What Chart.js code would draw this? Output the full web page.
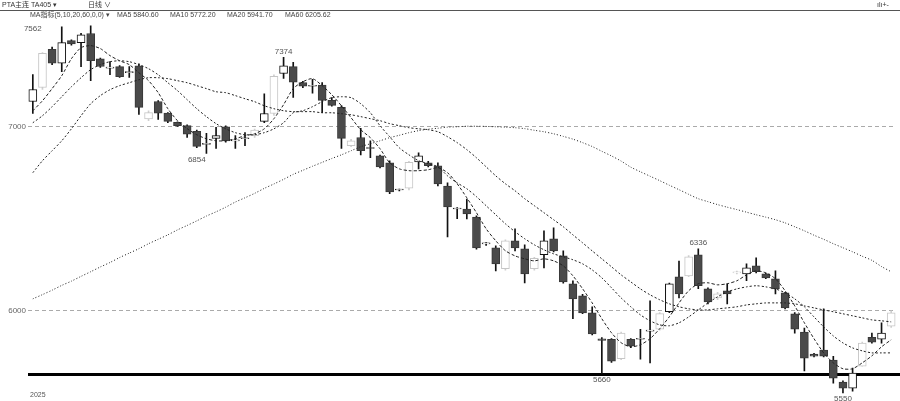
<!DOCTYPE html>
<html>
<head>
<meta charset="utf-8">
<script src="https://cdn.jsdelivr.net/npm/chart.js@4.4.1/dist/chart.umd.min.js"></script>
<style>
  html, body { margin: 0; padding: 0; background: #fff; }
  canvas { display: block; }
</style>
</head>
<body>
<canvas id="kline" width="900" height="401"></canvas>
<script>
// daily candles
const open = [
  7135, 7211, 7418, 7343, 7465, 7454, 7504, 7366, 7316, 7324,
  7292, 7329, 7040, 7135, 7072, 7022, 7004, 6973, 6903, 6935,
  6998, 6922, 6933, 6950, 7027, 7070, 7287, 7324, 7238, 7218,
  7224, 7141, 7103, 6895, 6940, 6885, 6840, 6802, 6655, 6665,
  6808, 6802, 6786, 6677, 6552, 6552, 6509, 6363, 6341, 6228,
  6380, 6336, 6228, 6304, 6391, 6298, 6146, 6081, 5989, 5848,
  5846, 5740, 5846, 5846, 5890, 5900, 5995, 6184, 6190, 6304,
  6119, 6070, 6108, 6206, 6200, 6244, 6200, 6173, 6097, 5984,
  5885, 5765, 5787, 5733, 5614, 5581, 5700, 5857, 5846, 5917
];
const high = [
  7281, 7400, 7430, 7540, 7470, 7505, 7546, 7370, 7351, 7330,
  7324, 7340, 7085, 7140, 7075, 7025, 7008, 6980, 6962, 6995,
  7003, 6950, 6966, 6985, 7177, 7280, 7374, 7347, 7245, 7255,
  7238, 7157, 7113, 6930, 6990, 6922, 6845, 6813, 6660, 6810,
  6857, 6810, 6803, 6694, 6560, 6606, 6515, 6370, 6352, 6385,
  6444, 6358, 6290, 6434, 6450, 6325, 6163, 6090, 6022, 5855,
  5850, 5885, 5850, 5900, 6054, 5990, 6150, 6270, 6300, 6336,
  6125, 6100, 6146, 6215, 6255, 6287, 6205, 6217, 6100, 5990,
  5906, 5770, 6011, 5754, 5620, 5690, 5830, 5880, 5935, 6000
];
const low = [
  7070, 7200, 7335, 7297, 7440, 7324, 7248, 7320, 7281, 7265,
  7265, 7065, 7031, 7038, 7020, 7000, 6940, 6885, 6854, 6880,
  6915, 6880, 6895, 6940, 7020, 7060, 7260, 7157, 7210, 7180,
  7075, 7110, 6880, 6890, 6846, 6830, 6775, 6635, 6650, 6655,
  6770, 6780, 6678, 6401, 6500, 6498, 6335, 6355, 6217, 6220,
  6325, 6152, 6220, 6233, 6320, 6150, 5957, 5985, 5870, 5660,
  5720, 5735, 5800, 5738, 5717, 5895, 5990, 6070, 6185, 6120,
  6038, 6060, 6038, 6200, 6163, 6205, 6175, 6092, 6010, 5879,
  5674, 5750, 5750, 5608, 5555, 5565, 5700, 5825, 5825, 5910
];
const close = [
  7200, 7396, 7343, 7454, 7447, 7496, 7357, 7325, 7316, 7270,
  7292, 7103, 7075, 7072, 7027, 7004, 6958, 6892, 6903, 6950,
  6922, 6922, 6933, 6980, 7070, 7271, 7329, 7240, 7218, 7218,
  7141, 7114, 6935, 6922, 6868, 6880, 6780, 6645, 6655, 6805,
  6840, 6787, 6688, 6564, 6552, 6525, 6341, 6363, 6254, 6380,
  6341, 6200, 6285, 6380, 6325, 6157, 6065, 5989, 5875, 5840,
  5727, 5880, 5808, 5846, 5895, 5985, 6146, 6092, 6293, 6136,
  6049, 6092, 6092, 6206, 6233, 6212, 6179, 6119, 6016, 5901,
  5744, 5754, 5754, 5635, 5581, 5663, 5825, 5830, 5879, 5989
];

// moving average lines as drawn
const ma5 = [
  7085, 7139, 7205, 7275, 7367, 7427, 7438, 7422, 7384, 7356,
  7335, 7291, 7248, 7183, 7096, 7031, 6988, 6955, 6933, 6922,
  6922, 6933, 6950, 6960, 6987, 7042, 7118, 7205, 7242, 7259,
  7221, 7172, 7112, 7047, 6982, 6939, 6879, 6803, 6770, 6760,
  6760, 6765, 6776, 6749, 6689, 6613, 6532, 6445, 6380, 6326,
  6298, 6282, 6271, 6282, 6271, 6244, 6190, 6120, 6043, 5957,
  5881, 5827, 5805, 5816, 5849, 5903, 5968, 6043, 6109, 6147,
  6152, 6141, 6147, 6163, 6195, 6217, 6206, 6174, 6109, 6027,
  5935, 5849, 5772, 5718, 5686, 5686, 5718, 5756, 5805, 5843
];
const ma10 = [
  7020, 7058, 7107, 7161, 7215, 7264, 7308, 7335, 7351, 7356,
  7351, 7335, 7313, 7280, 7237, 7194, 7145, 7096, 7053, 7015,
  6987, 6966, 6955, 6955, 6966, 6987, 7020, 7074, 7085, 7107,
  7134, 7156, 7161, 7156, 7123, 7074, 7004, 6944, 6884, 6846,
  6814, 6798, 6781, 6732, 6694, 6662, 6619, 6570, 6521, 6472,
  6429, 6391, 6358, 6331, 6309, 6293, 6277, 6255, 6222, 6179,
  6125, 6070, 6022, 5978, 5946, 5924, 5919, 5935, 5967, 6005,
  6043, 6076, 6103, 6119, 6130, 6136, 6130, 6119, 6098, 6065,
  6022, 5967, 5913, 5864, 5826, 5799, 5783, 5772, 5772, 5772
];
const ma20 = [
  6749, 6814, 6868, 6922, 6987, 7058, 7123, 7167, 7199, 7221,
  7237, 7253, 7264, 7264, 7259, 7248, 7237, 7221, 7205, 7188,
  7183, 7167, 7150, 7134, 7112, 7096, 7085, 7080, 7080, 7080,
  7074, 7074, 7069, 7063, 7053, 7042, 7031, 7015, 7004, 6993,
  6987, 6982, 6971, 6944, 6912, 6874, 6830, 6781, 6732, 6689,
  6651, 6608, 6570, 6532, 6494, 6456, 6412, 6369, 6325, 6282,
  6239, 6195, 6157, 6119, 6087, 6060, 6038, 6022, 6011, 6005,
  6005, 6011, 6016, 6022, 6032, 6038, 6043, 6043, 6043, 6038,
  6027, 6016, 6005, 5995, 5984, 5973, 5962, 5951, 5946, 5940
];
const ma60 = [
  6065, 6088, 6112, 6138, 6161, 6187, 6212, 6238, 6262, 6289,
  6313, 6337, 6364, 6388, 6412, 6439, 6463, 6488, 6514, 6537,
  6562, 6590, 6613, 6637, 6664, 6688, 6713, 6740, 6762, 6784,
  6805, 6826, 6846, 6868, 6890, 6906, 6922, 6939, 6952, 6966,
  6977, 6985, 6990, 6996, 6998, 7001, 7001, 7000, 6998, 6996,
  6993, 6988, 6979, 6971, 6960, 6946, 6931, 6912, 6891, 6865,
  6840, 6812, 6779, 6754, 6730, 6706, 6681, 6657, 6632, 6608,
  6592, 6576, 6562, 6549, 6535, 6521, 6508, 6494, 6477, 6456,
  6434, 6410, 6388, 6364, 6342, 6320, 6296, 6274, 6240, 6212
];

const yTicks = [6000, 7000];
const supportLevel = 5655;

// high / low notes
const noteText = ["7562", "7374", "6854", "6336", "5660", "5550"];
const noteIdx = [0, 26, 17, 69, 59, 84];
const noteVal = [7562, 7374, 6854, 6336, 5660, 5555];
const noteSide = ["below", "above", "below", "above", "below", "below"];

// light drawn candles
const faintIdx = [1, 12, 23, 25, 33, 39, 49, 52, 61, 65, 68, 71, 73, 86, 89];

const FONT = 'Arial, "Liberation Sans", "Noto Sans CJK SC", sans-serif';

function isFaint(i) { return faintIdx.indexOf(i) >= 0; }
function isUp(i) { return close[i] >= open[i]; }

const extras = {
  id: "extras",
  beforeDatasetsDraw(chart) {
    const ctx = chart.ctx;
    const y = chart.scales.y.getPixelForValue(supportLevel);
    ctx.save();
    ctx.strokeStyle = "#000";
    ctx.lineWidth = 3;
    ctx.beginPath();
    ctx.moveTo(chart.chartArea.left, y);
    ctx.lineTo(900, y);
    ctx.stroke();
    ctx.restore();
  },
  afterDraw(chart) {
    const ctx = chart.ctx;
    const xs = chart.scales.x, ys = chart.scales.y;
    ctx.save();

    // header
    ctx.fillStyle = "#333";
    ctx.font = "7px " + FONT;
    ctx.textBaseline = "middle";
    ctx.fillText("PTA主连 TA405 ▾", 2, 5);
    ctx.fillText("日线 ∨", 88, 5);
    ctx.fillText("ılı+-", 877, 5);
    ctx.strokeStyle = "#555";
    ctx.lineWidth = 1;
    ctx.beginPath();
    ctx.moveTo(0, 10.5);
    ctx.lineTo(900, 10.5);
    ctx.stroke();

    // legend row
    ctx.fillStyle = "#444";
    ctx.fillText("MA指标(5,10,20,60,0,0) ▾", 30, 15);
    ctx.fillText("MA5 5840.60", 117, 15);
    ctx.fillText("MA10 5772.20", 170, 15);
    ctx.fillText("MA20 5941.70", 227, 15);
    ctx.fillText("MA60 6205.62", 285, 15);

    // notes
    ctx.font = "8px " + FONT;
    ctx.fillStyle = "#555";
    ctx.textAlign = "center";
    noteText.forEach((t, k) => {
      const x = xs.getPixelForValue(noteIdx[k]);
      const y = ys.getPixelForValue(noteVal[k]);
      if (noteSide[k] === "above") {
        ctx.textBaseline = "bottom";
        ctx.fillText(t, x, y - 2);
      } else {
        ctx.textBaseline = "top";
        ctx.fillText(t, x, y + 2);
      }
    });

    ctx.textAlign = "left";
    ctx.textBaseline = "middle";
    ctx.font = "7px " + FONT;
    ctx.fillText("2025", 30, 395);
    ctx.restore();
  }
};

function maLine(label, data, dash) {
  return {
    type: "line",
    label: label,
    data: data,
    borderColor: "#222",
    borderWidth: 1,
    borderDash: dash,
    pointRadius: 0,
    tension: 0.25,
    order: 0
  };
}

new Chart(document.getElementById("kline"), {
  type: "bar",
  data: {
    labels: open.map((_, i) => i),
    datasets: [
      maLine("MA5", ma5, [3, 2]),
      maLine("MA10", ma10, [2, 2]),
      maLine("MA20", ma20, [2, 2]),
      maLine("MA60", ma60, [1, 2]),
      {
        label: "body",
        data: open.map((o, i) => [o, close[i]]),
        barThickness: 8,
        grouped: false,
        minBarLength: 1,
        borderWidth: 1,
        borderSkipped: false,
        backgroundColor: open.map((_, i) => (isFaint(i) || isUp(i)) ? "#fff" : "#4a4a4a"),
        borderColor: open.map((_, i) => isFaint(i) ? "#c6c6c6" : (isUp(i) ? "#111" : "#383838")),
        order: 1
      },
      {
        label: "wick",
        data: low.map((l, i) => [l, high[i]]),
        barThickness: 1,
        grouped: false,
        borderWidth: 0,
        backgroundColor: low.map((_, i) => isFaint(i) ? "#cfcfcf" : "#111"),
        order: 2
      }
    ]
  },
  options: {
    responsive: false,
    animation: false,
    devicePixelRatio: 1,
    layout: { padding: { top: 20, right: 4, bottom: 0, left: 0 } },
    plugins: { legend: { display: false }, tooltip: { enabled: false } },
    scales: {
      x: {
        display: false,
        offset: true,
        grid: { display: false }
      },
      y: {
        min: 5548,
        max: 7577,
        afterFit(scale) { scale.width = 28; },
        afterBuildTicks(scale) { scale.ticks = yTicks.map(v => ({ value: v })); },
        ticks: {
          color: "#666",
          font: { size: 8, family: FONT },
          padding: 2,
          callback: v => String(v)
        },
        grid: { color: "#aaa", lineWidth: 1, drawTicks: false },
        border: { display: false, dash: [4, 3] }
      }
    }
  },
  plugins: [extras]
});
</script>
</body>
</html>
